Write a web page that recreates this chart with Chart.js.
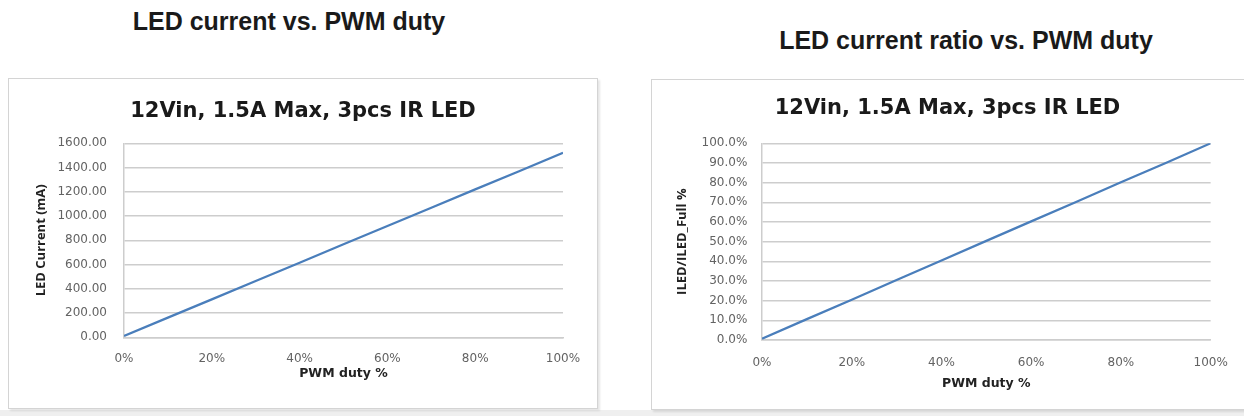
<!DOCTYPE html>
<html>
<head>
<meta charset="utf-8">
<script src="https://cdn.jsdelivr.net/npm/chart.js@4.4.1/dist/chart.umd.min.js"></script>
<style>
  html, body { margin: 0; padding: 0; background: #fff; }
  body { width: 1244px; height: 416px; position: relative; overflow: hidden; }
  .band { position: absolute; left: 0; top: 410px; width: 1244px; height: 6px; background: #efefef; }
  .head { position: absolute; font-family: "Liberation Sans", Arial, sans-serif; font-weight: bold;
          font-size: 25px; line-height: 25px; color: #1a1a1a; text-align: center; white-space: nowrap; }
  .box { position: absolute; border: 1px solid #d4d4d4; background: #fff;
         box-shadow: 2px 2px 2px rgba(0,0,0,0.10); }
  canvas { position: absolute; }
</style>
</head>
<body>
<div class="band"></div>
<div class="head" style="left:0px; top:9px; width:578px;">LED current vs. PWM duty</div>
<div class="head" style="left:688px; top:28px; width:556px;">LED current ratio vs. PWM duty</div>
<div class="box" style="left:8px; top:78px; width:588px; height:329px;"></div>
<div class="box" style="left:651px; top:79px; width:600px; height:329px;"></div>
<canvas id="c1" width="588" height="329" style="left:9px; top:79px; width:588px; height:329px;"></canvas>
<canvas id="c2" width="591" height="329" style="left:652px; top:80px; width:591px; height:329px;"></canvas>
<script>
// ---- data ----
const pwmDuty = [0, 10, 20, 30, 40, 50, 60, 70, 80, 90, 100];            // PWM duty %
const ledCurrent = [12, 162, 313, 465, 615, 767, 918, 1068, 1220, 1370, 1522]; // mA
const ledRatio = [0.7, 10.6, 20.5, 30.5, 40.4, 50.4, 60.3, 70.2, 80.2, 90.0, 100.0]; // % of full
const chartTitle = "12Vin, 1.5A Max, 3pcs IR LED";
const xTitle = "PWM duty %";
const yTitleLeft = "LED Current (mA)";
const yTitleRight = "ILED/ILED_Full %";
const xTicks = [0, 20, 40, 60, 80, 100];
const yTicksLeft = [0, 200, 400, 600, 800, 1000, 1200, 1400, 1600];
const yTicksRight = [0, 10, 20, 30, 40, 50, 60, 70, 80, 90, 100];

const LINE = '#4a7ebb';
const GRID = '#cdcdcd';
const TICK = '#636363';
const tickFont = { family: '"DejaVu Sans", sans-serif', size: 12 };

function makeChart(id, values, yTicks, yMax, yFmt, yTitle, cfg) {
  const pts = pwmDuty.map((x, i) => ({ x: x, y: values[i] }));
  return new Chart(document.getElementById(id), {
    type: 'scatter',
    data: { datasets: [{ data: pts, showLine: true, borderColor: LINE, borderWidth: 2.25,
                         pointRadius: 0, pointHoverRadius: 0, tension: 0, fill: false }] },
    options: {
      responsive: false, animation: false, events: [],
      layout: { padding: 0 },
      plugins: {
        legend: { display: false }, tooltip: { enabled: false },
        title: { display: true, text: chartTitle, color: '#1a1a1a',
                 font: { family: '"DejaVu Sans", sans-serif', size: 21, weight: 'bold', lineHeight: 1.2 },
                 padding: { top: cfg.titleTop, bottom: cfg.titleBottom } }
      },
      scales: {
        x: {
          type: 'linear', min: 0, max: 100,
          afterBuildTicks: s => { s.ticks = xTicks.map(v => ({ value: v })); },
          afterFit: s => { s.height = cfg.xHeight; },
          grid: { display: false, drawTicks: false },
          border: { display: true, color: GRID, width: 1.5 },
          ticks: { color: TICK, font: tickFont, padding: cfg.xTickPad, maxRotation: 0,
                   callback: v => v + '%' },
          title: { display: true, text: xTitle, color: '#222',
                   font: { family: '"DejaVu Sans", sans-serif', size: 12.5, weight: 'bold', lineHeight: 1.2 },
                   padding: { top: 0, bottom: cfg.xTitlePad } }
        },
        y: {
          type: 'linear', min: 0, max: yMax,
          afterBuildTicks: s => { s.ticks = yTicks.map(v => ({ value: v })); },
          afterFit: s => { s.width = cfg.yWidth; },
          grid: { color: GRID, lineWidth: 1.5, drawTicks: false },
          border: { display: true, color: GRID, width: 1.5 },
          ticks: { color: TICK, font: tickFont, padding: cfg.yTickPad, callback: yFmt },
          title: { display: true, text: yTitle, color: '#222',
                   font: { family: '"Open Sans", sans-serif', size: 13, weight: 'bold', lineHeight: 1.2 },
                   padding: { top: cfg.yTitlePad, bottom: 0 } }
        },
        yRight: {
          type: 'linear', position: 'right', min: 0, max: yMax,
          afterFit: s => { s.width = cfg.padRight; },
          grid: { display: false, drawTicks: false },
          border: { display: false },
          ticks: { display: false },
          title: { display: false }
        }
      }
    }
  });
}

makeChart('c1', ledCurrent, yTicksLeft, 1600, v => v.toFixed(2), yTitleLeft,
  { padRight: 34, titleTop: 19.6, titleBottom: 19.5, xHeight: 70.7, xTickPad: 14.5, xTitlePad: 27,
    yWidth: 115, yTickPad: 17, yTitlePad: 24 });
makeChart('c2', ledRatio, yTicksRight, 100, v => v.toFixed(1) + '%', yTitleRight,
  { padRight: 31, titleTop: 15.8, titleBottom: 22.3, xHeight: 69, xTickPad: 15.2, xTitlePad: 17.5,
    yWidth: 110, yTickPad: 14.7, yTitlePad: 22 });
</script>
</body>
</html>
